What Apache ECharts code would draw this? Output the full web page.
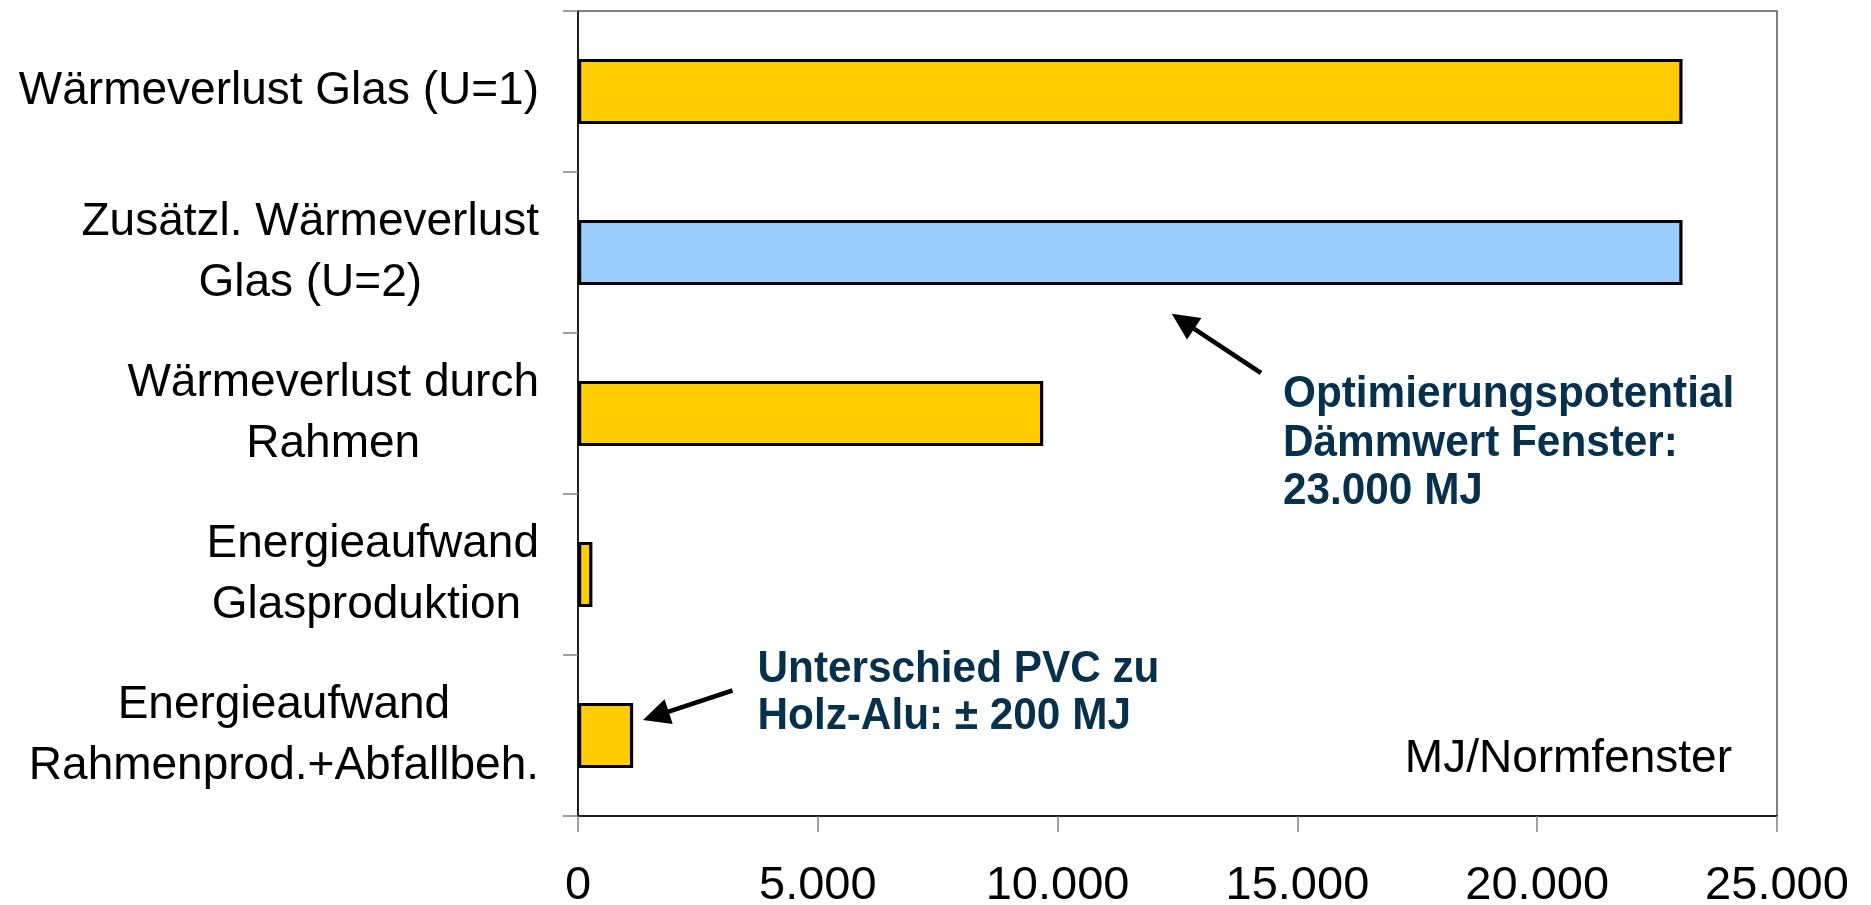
<!DOCTYPE html>
<html>
<head>
<meta charset="utf-8">
<script src="https://cdn.jsdelivr.net/npm/echarts@6/dist/echarts.min.js"></script>
<style>
html,body{margin:0;padding:0;background:#fff;}
#chart{width:1871px;height:905px;}
</style>
</head>
<body>
<div id="chart"></div>
<script>
const categories = [
  'Wärmeverlust Glas (U=1)',
  'Zusätzl. Wärmeverlust\nGlas (U=2)',
  'Wärmeverlust durch\nRahmen',
  'Energieaufwand\nGlasproduktion ',
  'Energieaufwand\nRahmenprod.+Abfallbeh.'
];
const values = [23030, 23030, 9700, 300, 1150];
const xTicks = [0, 5000, 10000, 15000, 20000, 25000];
const unitLabel = 'MJ/Normfenster';
const note1 = ['Optimierungspotential', 'Dämmwert Fenster:', '23.000 MJ'];
const note2 = ['Unterschied PVC zu', 'Holz-Alu: ± 200 MJ'];

const FONT = "'Liberation Sans', Arial, Helvetica, sans-serif";
const NOTE_COLOR = '#06304c';

function fmt(v) {
  return String(v).replace(/\B(?=(\d{3})+(?!\d))/g, '.');
}

function arrow(x1, y1, x2, y2) {
  const dx = x2 - x1, dy = y2 - y1;
  const len = Math.sqrt(dx * dx + dy * dy);
  const ux = dx / len, uy = dy / len;
  const headLen = 27, halfW = 13;
  const bx = x2 - ux * headLen, by = y2 - uy * headLen;
  const px = -uy, py = ux;
  return [
    {
      type: 'line',
      shape: { x1: x1, y1: y1, x2: bx + ux * 4, y2: by + uy * 4 },
      style: { stroke: '#000', lineWidth: 4.5 }
    },
    {
      type: 'polygon',
      shape: { points: [[x2, y2], [bx + px * halfW, by + py * halfW], [bx - px * halfW, by - py * halfW]] },
      style: { fill: '#000' }
    }
  ];
}

const chart = echarts.init(document.getElementById('chart'), null, { renderer: 'canvas' });

const option = {
  backgroundColor: '#fff',
  animation: false,
  grid: {
    left: 578, right: 94, top: 11, bottom: 89,
    show: true, borderColor: '#555', borderWidth: 1.5,
    containLabel: false, outerBoundsMode: 'none'
  },
  xAxis: {
    type: 'value',
    min: xTicks[0],
    max: xTicks[xTicks.length - 1],
    interval: xTicks[1] - xTicks[0],
    splitLine: { show: false },
    axisLine: { show: true, lineStyle: { color: '#000', width: 1.5 } },
    axisTick: { show: true, length: 16, lineStyle: { color: '#808080', width: 1.5 } },
    axisLabel: {
      fontSize: 47, fontFamily: FONT, color: '#000', margin: 47, lineHeight: 46,
      formatter: fmt
    }
  },
  yAxis: {
    type: 'category',
    inverse: true,
    data: categories,
    axisLine: { show: true, lineStyle: { color: '#000', width: 1.5 } },
    axisTick: { show: true, length: 15, lineStyle: { color: '#808080', width: 1.5 } },
    axisLabel: {
      margin: 39,
      interval: 0,
      formatter: function (val) {
        return val.split('\n').map(function (l) { return '{c|' + l + '}'; }).join('\n');
      },
      rich: {
        c: { align: 'center', fontSize: 46, lineHeight: 61, fontFamily: FONT, color: '#000' }
      }
    }
  },
  series: [{
    type: 'bar',
    data: values,
    barWidth: '40.5%',
    itemStyle: {
      color: function (p) { return p.dataIndex === 1 ? '#99CCFF' : '#FFCC00'; },
      borderColor: '#000',
      borderWidth: 3.2
    }
  }],
  graphic: [
    {
      type: 'text', right: 1871 - 1732, top: 759 - 23,
      style: { text: unitLabel, font: '46px ' + FONT, fill: '#000', textAlign: 'right' }
    },
    {
      type: 'text', x: 1283, y: 370.75, scaleX: 0.94,
      style: {
        text: note1.join('\n'), font: 'bold 45px ' + FONT, fill: NOTE_COLOR,
        lineHeight: 48.5, textVerticalAlign: 'top'
      }
    },
    {
      type: 'text', x: 757.5, y: 646.5, scaleX: 0.94,
      style: {
        text: note2.join('\n'), font: 'bold 45px ' + FONT, fill: NOTE_COLOR,
        lineHeight: 47, textVerticalAlign: 'top'
      }
    }
  ].concat(arrow(1261, 373, 1171.7, 313.8)).concat(arrow(732.5, 690.5, 643, 720))
};

chart.setOption(option);
</script>
</body>
</html>
